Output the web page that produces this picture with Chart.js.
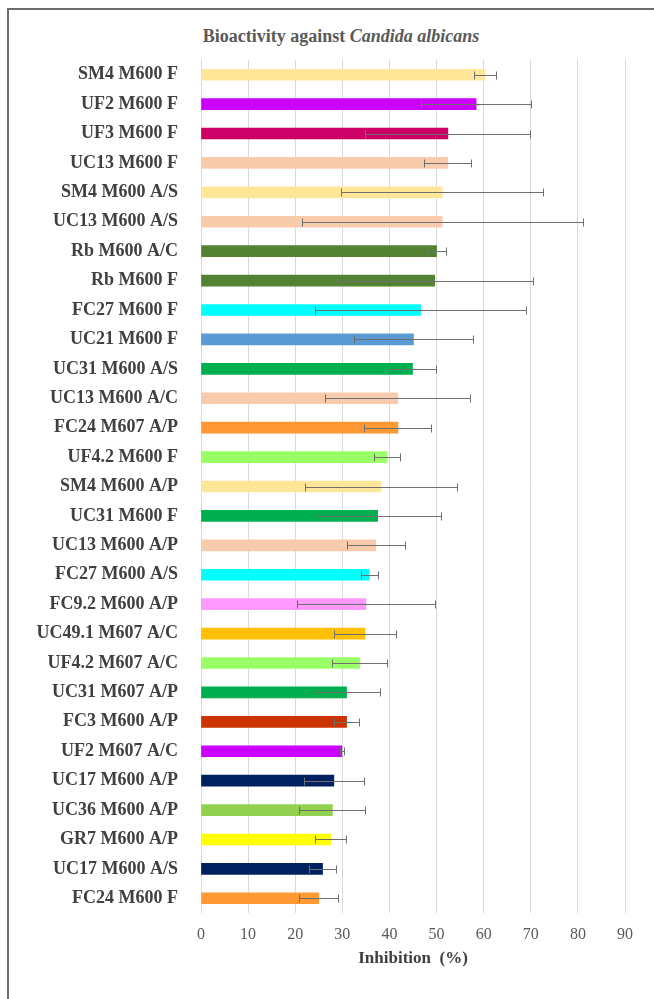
<!DOCTYPE html>
<html>
<head>
<meta charset="utf-8">
<script src="https://cdn.jsdelivr.net/npm/chart.js@4.4.0/dist/chart.umd.min.js"></script>
<style>
  html, body { margin: 0; padding: 0; background: #fff; }
  #wrap { position: relative; width: 654px; height: 999px; overflow: hidden; }
  #frame { position: absolute; left: 7px; top: 8px; width: 700px; height: 1100px;
           border-left: 2px solid #6e6e6e; border-top: 2px solid #6e6e6e; }
  #title { position: absolute; left: 0; width: 682px; top: 26px; text-align: center;
           font: bold 18px "Liberation Serif", serif; color: #595959; }
  canvas { position: absolute; left: 0; top: 0; }
</style>
</head>
<body>
<div id="wrap">
  <div id="frame"></div>
  <div id="title">Bioactivity against <i>Candida albicans</i></div>
  <canvas id="chart" width="654" height="999"></canvas>
</div>
<script>
// samples, top to bottom
const samples = [
  'SM4 M600 F', 'UF2 M600 F', 'UF3 M600 F', 'UC13 M600 F', 'SM4 M600 A/S',
  'UC13 M600 A/S', 'Rb M600 A/C', 'Rb M600 F', 'FC27 M600 F', 'UC21 M600 F',
  'UC31 M600 A/S', 'UC13 M600 A/C', 'FC24 M607 A/P', 'UF4.2 M600 F', 'SM4 M600 A/P',
  'UC31 M600 F', 'UC13 M600 A/P', 'FC27 M600 A/S', 'FC9.2 M600 A/P', 'UC49.1 M607 A/C',
  'UF4.2 M607 A/C', 'UC31 M607 A/P', 'FC3 M600 A/P', 'UF2 M607 A/C', 'UC17 M600 A/P',
  'UC36 M600 A/P', 'GR7 M600 A/P', 'UC17 M600 A/S', 'FC24 M600 F'
];
// mean inhibition (%)
const inhibition = [
  60.3, 58.4, 52.4, 52.4, 51.2,
  51.2, 50.0, 49.6, 46.6, 45.1,
  44.9, 41.8, 41.8, 39.5, 38.2,
  37.5, 37.1, 35.7, 35.0, 34.8,
  33.7, 30.9, 30.9, 29.9, 28.2,
  27.9, 27.5, 25.8, 25.0
];
// standard deviation (+/-)
const errors = [
  2.4, 11.6, 17.5, 5.0, 21.5,
  29.8, 2.0, 20.8, 22.4, 12.6,
  4.9, 15.4, 7.1, 2.7, 16.2,
  13.4, 6.1, 1.8, 14.7, 6.5,
  5.8, 7.1, 2.7, 0.4, 6.3,
  7.0, 3.2, 2.9, 4.1
];
const xTicks = [0, 10, 20, 30, 40, 50, 60, 70, 80, 90];

const barColors = [
  '#FFE699', '#CC00FF', '#CC0066', '#F8CBAD', '#FFE699',
  '#F8CBAD', '#548235', '#548235', '#00FFFF', '#5B9BD5',
  '#00B050', '#F8CBAD', '#FF9933', '#99FF66', '#FFE699',
  '#00B050', '#F8CBAD', '#00FFFF', '#FF99FF', '#FFC000',
  '#99FF66', '#00B050', '#CC3300', '#CC00FF', '#002060',
  '#92D050', '#FFFF00', '#002060', '#FF9933'
];

// draws the +/- error bars using the x scale
const errorBars = {
  id: 'errorBars',
  afterDatasetsDraw(chart) {
    const ctx = chart.ctx;
    const x = chart.scales.x;
    const meta = chart.getDatasetMeta(0);
    ctx.save();
    ctx.strokeStyle = '#6f6f6f';
    ctx.lineWidth = 1;
    meta.data.forEach((bar, i) => {
      const lo = Math.round(x.getPixelForValue(inhibition[i] - errors[i])) + 0.5;
      const hi = Math.round(x.getPixelForValue(inhibition[i] + errors[i])) + 0.5;
      const y = Math.round(bar.y) + 0.5;
      ctx.beginPath();
      ctx.moveTo(lo, y); ctx.lineTo(hi, y);
      ctx.moveTo(lo, y - 4); ctx.lineTo(lo, y + 4);
      ctx.moveTo(hi, y - 4); ctx.lineTo(hi, y + 4);
      ctx.stroke();
    });
    ctx.restore();
  }
};

new Chart(document.getElementById('chart'), {
  type: 'bar',
  data: {
    labels: samples,
    datasets: [{
      data: inhibition,
      backgroundColor: barColors,
      borderWidth: 0,
      barThickness: 11
    }]
  },
  options: {
    indexAxis: 'y',
    responsive: false,
    animation: false,
    layout: { padding: { left: 0, right: 29, top: 60, bottom: 26 } },
    plugins: { legend: { display: false }, tooltip: { enabled: false } },
    scales: {
      x: {
        min: 0, max: 90,
        afterBuildTicks: (s) => { s.ticks = xTicks.map(v => ({ value: v })); },
        afterFit: (s) => { s.height = 60; },
        grid: { color: '#d9d9d9', drawTicks: false },
        border: { display: false },
        ticks: { padding: 12, color: '#595959', font: { family: 'Liberation Serif', size: 16 } },
        title: {
          display: true, text: 'Inhibition  (%)', color: '#404040',
          font: { family: 'Liberation Serif', size: 17, weight: 'bold' },
          padding: { top: 0, bottom: 4 }
        }
      },
      y: {
        afterFit: (s) => { s.width = 201; },
        grid: { display: false },
        border: { display: false },
        ticks: { padding: 15, color: '#404040', font: { family: 'Liberation Serif', size: 18, weight: 'bold' } }
      }
    }
  },
  plugins: [errorBars]
});
</script>
</body>
</html>
